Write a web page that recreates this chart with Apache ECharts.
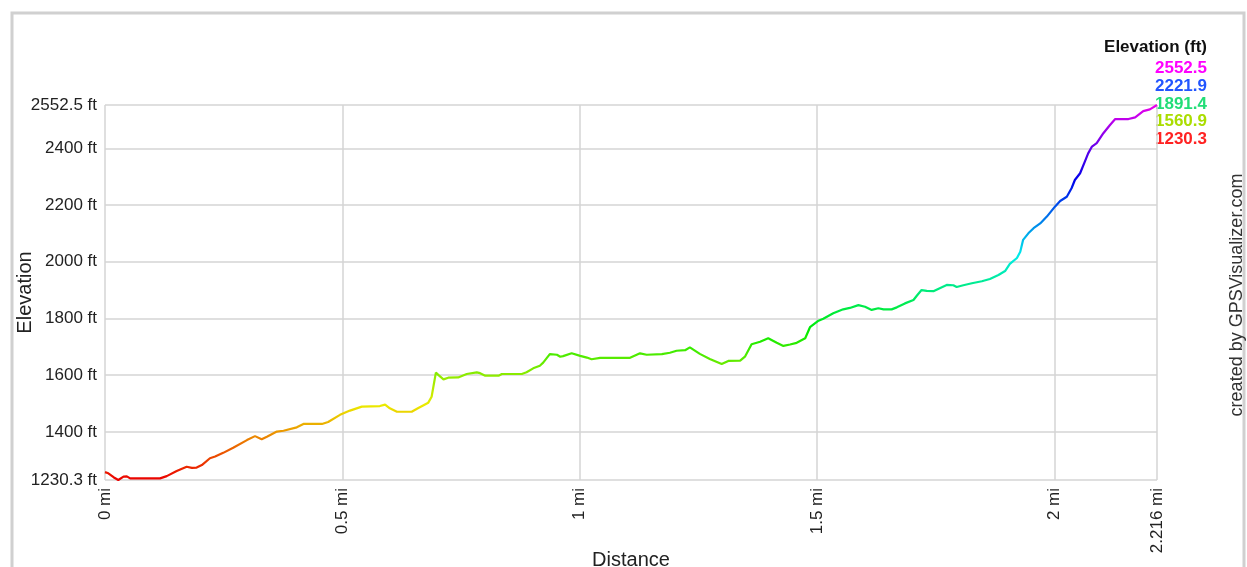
<!DOCTYPE html>
<html>
<head>
<meta charset="utf-8">
<script src="https://cdn.jsdelivr.net/npm/echarts@6/dist/echarts.min.js"></script>
<style>html,body{margin:0;padding:0;background:#fff}#c{width:1247px;height:567px}</style>
</head>
<body>
<div id="c"></div>
<script>
// Distance along track (mi)
const distanceMi = [0,0.007,0.018,0.028,0.039,0.046,0.053,0.116,0.130,0.151,
0.172,0.183,0.193,0.204,0.221,0.232,0.249,0.270,0.299,0.316,
0.330,0.341,0.362,0.376,0.404,0.418,0.457,0.470,0.495,0.516,
0.541,0.579,0.590,0.600,0.615,0.646,0.660,0.681,0.688,0.697,
0.702,0.713,0.723,0.744,0.748,0.762,0.783,0.790,0.801,0.829,
0.836,0.878,0.888,0.902,0.916,0.923,0.937,0.952,0.959,0.965,
0.983,1.001,1.015,1.025,1.043,1.106,1.127,1.141,1.173,1.190,
1.204,1.222,1.232,1.253,1.274,1.299,1.313,1.338,1.348,1.362,
1.380,1.397,1.415,1.429,1.443,1.457,1.475,1.485,1.503,1.513,
1.534,1.555,1.569,1.587,1.601,1.615,1.629,1.640,1.657,1.668,
1.685,1.703,1.710,1.720,1.731,1.745,1.755,1.773,1.787,1.794,
1.808,1.826,1.847,1.864,1.882,1.896,1.906,1.921,1.928,1.934,
1.945,1.956,1.970,1.984,2.001,2.012,2.026,2.036,2.043,2.054,
2.064,2.071,2.079,2.089,2.103,2.117,2.128,2.156,2.170,2.187,
2.201,2.216];
// Elevation (ft)
const elevationFt = [1258,1254,1240,1230.3,1242,1243,1236,1236,1244,1262,
1277,1273,1274,1283,1307,1313,1326,1344,1371,1385,
1374,1383,1401,1404,1416,1428,1428,1435,1460,1475,
1489,1491,1496,1483,1471,1471,1484,1503,1524,1609,
1601,1585,1591,1592,1597,1604,1610,1607,1598,1598,
1604,1604,1610,1624,1633,1644,1674,1672,1665,1667,
1677,1668,1662,1656,1661,1661,1677,1672,1674,1679,
1686,1688,1698,1675,1657,1639,1650,1651,1665,1709,
1718,1730,1714,1703,1708,1714,1730,1769,1792,1799,
1818,1832,1837,1847,1841,1830,1836,1832,1832,1839,
1853,1865,1880,1900,1897,1896,1904,1918,1917,1911,
1917,1924,1931,1939,1953,1967,1992,2013,2035,2077,
2100,2118,2135,2159,2194,2214,2229,2259,2288,2312,
2353,2382,2406,2418,2453,2482,2503,2503,2509,2531,
2537,2552.5];
const elevMin = 1230.3;
const elevMax = 2552.5;
const distMax = 2.216;
const legendTitle = 'Elevation (ft)';
const legendValues = ['2552.5','2221.9','1891.4','1560.9','1230.3'];
const legendColors = ['#ff00ff','#2255ff','#22dd77','#aadd00','#ff2222'];
const creditText = 'created by GPSVisualizer.com';

const hueStops = [];
for (let h = 0; h <= 300; h += 20) hueStops.push('hsl(' + h + ',100%,46%)');

const data = distanceMi.map((d, i) => [d, elevationFt[i]]);
const chart = echarts.init(document.getElementById('c'), null, {renderer: 'canvas'});
const font = '"Liberation Sans", Arial, sans-serif';
const gridColor = '#d4d4d4';

const graphics = [
  {type: 'rect', x: 12, y: 13, shape: {width: 1232, height: 620}, style: {fill: 'none', stroke: '#d0d0d0', lineWidth: 3}, z: 0, silent: true},
  {type: 'text', x: 1207, y: 39, style: {text: legendTitle, fill: '#111', font: 'bold 17px ' + font, textAlign: 'right', textVerticalAlign: 'top'}},
  {type: 'text', x: 1237, y: 295, rotation: Math.PI / 2, style: {text: creditText, fill: '#333', font: '18px ' + font, textAlign: 'center', textVerticalAlign: 'middle'}}
];
legendValues.forEach((v, i) => {
  graphics.push({type: 'text', x: 1207, y: 60 + i * 17.7, style: {text: v, fill: legendColors[i], font: 'bold 17px ' + font, textAlign: 'right', textVerticalAlign: 'top'}});
});

chart.setOption({
  backgroundColor: '#ffffff',
  animation: false,
  grid: {left: 105, right: 90, top: 105, bottom: 87, containLabel: false, outerBoundsMode: 'none'},
  graphic: graphics,
  visualMap: {type: 'continuous', show: false, dimension: 1, min: elevMin, max: elevMax, inRange: {color: hueStops}},
  xAxis: {
    type: 'value', min: 0, max: distMax, minInterval: 0.5, maxInterval: 0.5, splitNumber: 5,
    name: 'Distance', nameLocation: 'middle', nameGap: 70, nameMoveOverlap: false,
    nameTextStyle: {color: '#222', fontSize: 20, fontFamily: font},
    axisLine: {show: false}, axisTick: {show: false},
    axisLabel: {rotate: 90, margin: 8, color: '#222', fontSize: 17, fontFamily: font, formatter: v => v + ' mi', showMinLabel: true, showMaxLabel: true},
    splitLine: {show: true, showMinLine: true, showMaxLine: true, lineStyle: {color: gridColor, width: 1.5}}
  },
  yAxis: {
    type: 'value', min: elevMin, max: elevMax, minInterval: 200, maxInterval: 200, splitNumber: 6,
    name: 'Elevation', nameLocation: 'middle', nameGap: 70, nameRotate: 90, nameMoveOverlap: false,
    nameTextStyle: {color: '#222', fontSize: 20, fontFamily: font},
    axisLine: {show: false}, axisTick: {show: false},
    axisLabel: {margin: 8, color: '#222', fontSize: 17, fontFamily: font, formatter: v => v + ' ft', showMinLabel: true, showMaxLabel: true},
    splitLine: {show: true, showMinLine: true, showMaxLine: true, lineStyle: {color: gridColor, width: 1.5}}
  },
  series: [{
    type: 'line', data: data, showSymbol: false, symbol: 'none',
    lineStyle: {width: 2.2}, z: 3
  }]
});
</script>
</body>
</html>
